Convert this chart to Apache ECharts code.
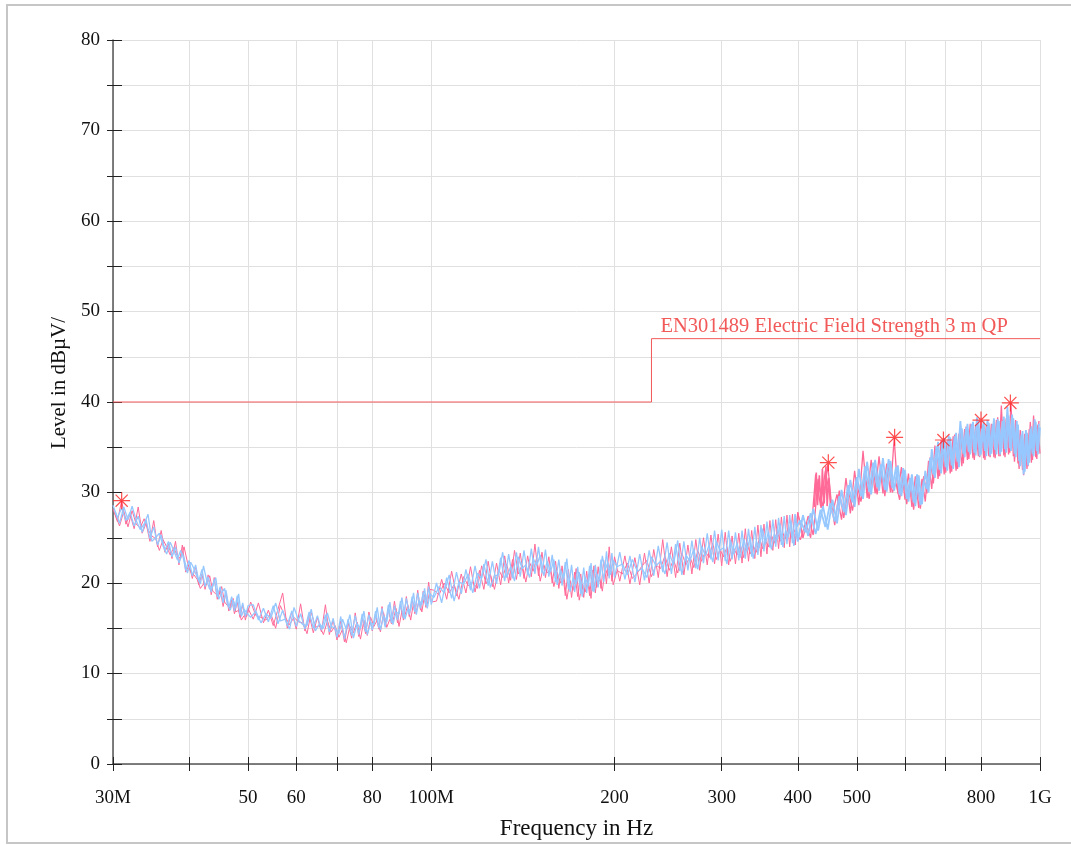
<!DOCTYPE html>
<html>
<head>
<meta charset="utf-8">
<title>EMI scan</title>
<script src="https://cdn.jsdelivr.net/npm/echarts@6/dist/echarts.min.js"></script>
<style>
  html, body { margin: 0; padding: 0; background: #fff; }
  #chart { position: absolute; left: 0; top: 0; width: 1071px; height: 845px; }
  #frame { position: absolute; left: 6px; top: 4px; width: 1100px; height: 836px;
           border: 2px solid #c6c6c6; pointer-events: none; }
</style>
</head>
<body>
<div id="chart"></div>
<div id="frame"></div>
<script>
// sweep frequencies in MHz (first pass)
const sweepFreqs = [
  30,30.5,31,31.5,32,32.5,33,33.5,34,34.5,35,35.5,36,36.5,37,37.5,38,38.5,39,39.5,
  40,40.5,41,41.5,42,42.5,43,43.5,44,44.5,45,45.5,46,46.5,47,47.5,48,48.5,49,49.5,50,
  51,52,53,54,55,56,57,58,59,60,61,62,63,64,65,66,67,68,69,70,
  71,72,73,74,75,76,77,78,79,80,81,82,83,84,85,86,87,88,89,90,
  91,92,93,94,95,96,97,98,99,100,
  102,104,106,108,110,112,114,116,118,120,122,124,126,128,130,132,134,136,138,140,
  142,144,146,148,150,152,154,156,158,160,162,164,166,168,170,172,174,176,178,180,
  182,184,186,188,190,192,194,196,198,200,
  204,208,212,216,220,224,228,232,236,240,244,248,252,256,260,264,268,272,276,280,
  284,288,292,296,300,304,308,312,316,320,324,328,332,336,340,344,348,352,356,360,
  364,368,372,376,380,384,388,392,396,400,
  408,416,424,432,440,448,456,464,472,480,488,496,504,512,520,528,536,544,552,560,
  568,576,584,592,600,608,616,624,632,640,648,656,664,672,680,688,696,704,712,720,
  728,736,744,752,760,768,776,784,792,800,808,816,824,832,840,848,856,864,872,880,
  888,896,904,912,920,928,936,944,952,960,968,976,984,992,1000
];

// max peak trace (pink), dBuV/m
const peakLevels = [
  28.2,26.8,29.1,26.5,27.6,26.0,28.4,25.5,26.6,24.6,26.9,24.0,25.8,23.4,24.3,22.7,24.6,22.0,24.2,21.2,
  22.0,20.5,21.8,19.8,21.0,19.3,20.9,18.7,20.6,18.2,19.3,17.4,19.0,16.9,18.2,16.6,17.9,16.2,17.6,15.9,17.2,
  16.0,17.8,15.6,17.0,15.3,17.1,18.9,15.0,16.8,14.9,17.7,14.7,16.5,14.5,16.2,14.6,17.6,14.3,15.9,13.7,
  15.8,13.5,15.6,13.9,16.7,14.1,16.1,14.4,16.8,14.7,16.5,14.9,17.4,15.3,17.1,15.5,18.0,15.6,17.6,15.9,
  18.5,16.3,18.2,16.6,19.2,17.0,19.1,17.3,20.1,17.9,
  18.0,20.4,18.2,21.3,18.6,21.0,18.9,21.8,19.0,21.4,19.3,22.4,19.6,22.2,19.8,23.0,20.0,22.6,20.4,23.3,
  20.5,23.0,20.7,24.3,20.8,23.4,20.6,22.9,20.0,22.4,19.4,21.9,18.6,21.5,18.4,21.2,18.5,21.0,18.4,21.3,
  18.6,21.4,18.9,21.8,19.4,22.5,19.9,24.0,20.2,22.9,
  20.2,23.0,19.9,22.8,19.8,23.3,20.0,23.7,20.6,24.8,20.7,24.0,20.6,24.4,20.9,24.2,21.0,24.8,21.4,25.0,
  22.0,25.3,22.1,25.4,21.9,25.6,22.0,25.2,22.1,25.5,22.2,26.0,22.4,25.8,22.7,26.4,22.9,26.5,23.2,26.9,
  23.6,27.0,23.8,27.3,23.9,27.5,24.0,27.6,24.2,27.8,
  25.0,27.4,25.3,31.5,28.3,33.1,27.6,29.8,27.0,31.6,27.7,32.4,28.6,34.6,29.4,33.6,29.9,34.0,29.9,33.2,
  30.0,36.0,29.9,32.8,29.2,32.1,28.4,31.8,28.3,31.5,29.0,33.5,30.4,35.2,31.5,35.8,32.0,35.7,32.1,36.2,
  32.4,36.5,32.9,37.0,33.6,37.6,33.8,37.5,34.0,37.9,33.8,37.4,34.0,37.6,33.9,38.0,34.0,39.6,34.1,38.2,
  34.2,39.9,34.0,38.0,33.2,36.9,32.5,36.5,32.6,37.0,33.3,38.5,33.9,37.5,34.3
];

// second trace (light blue), dBuV/m
const traceLevels = [
  28.6,27.2,28.3,26.9,27.8,26.3,27.4,25.6,27.0,24.9,26.2,24.2,25.3,23.6,24.6,22.9,24.0,22.2,23.3,21.4,
  22.5,20.8,22.0,20.2,21.5,19.6,20.7,19.0,20.4,18.5,19.6,17.8,19.2,17.3,18.5,16.9,18.6,16.5,17.8,16.3,17.5,
  17.6,15.9,17.2,15.7,17.5,15.5,17.0,15.3,16.9,15.2,16.6,14.9,16.8,15.0,16.4,14.8,16.5,14.6,16.1,14.0,
  16.3,13.8,16.0,14.2,16.4,14.3,16.6,14.6,16.5,14.8,16.9,15.0,17.2,15.1,17.6,15.6,17.5,15.9,18.0,16.1,
  18.3,16.5,18.5,16.8,18.9,17.2,19.0,17.5,19.6,17.6,
  20.0,17.8,20.6,18.3,21.2,18.8,21.5,19.2,21.9,19.4,22.1,19.7,22.4,19.9,22.8,20.2,23.2,20.5,23.4,20.7,
  23.6,20.9,23.8,21.0,24.0,21.1,23.7,20.7,23.1,20.1,22.6,19.7,22.3,19.3,22.0,19.0,21.8,18.8,21.7,18.9,
  21.9,19.1,22.0,19.5,22.6,20.1,23.5,20.5,23.3,20.6,
  23.4,20.4,23.0,20.1,23.2,20.3,23.6,20.8,24.1,21.2,24.5,21.0,24.3,21.3,24.6,21.4,24.7,21.6,25.0,22.2,
  25.5,22.6,25.8,22.5,25.9,22.4,25.8,22.6,25.6,22.5,25.8,22.7,26.0,22.9,26.2,23.1,26.4,23.5,26.8,23.9,
  27.0,24.0,27.2,24.2,27.4,24.3,27.5,24.4,27.6,24.6,
  27.5,25.2,28.2,25.8,28.5,25.9,29.2,26.6,30.3,27.5,31.4,28.4,32.6,29.3,33.4,29.8,33.6,30.2,33.8,30.1,
  33.5,30.2,33.0,29.6,32.5,29.0,32.0,28.5,31.9,28.7,32.4,30.0,34.8,31.6,35.6,32.1,36.0,32.4,36.1,32.6,
  36.6,32.8,37.1,33.9,37.6,34.2,37.8,34.1,38.0,34.2,37.9,34.0,37.7,34.3,38.2,34.2,37.9,34.5,38.4,34.4,
  38.5,34.6,38.2,33.9,37.5,32.9,36.8,32.3,36.6,33.3,37.3,34.0,37.8,34.2,37.2
];

// sweep frequencies in MHz (second pass, offset between the first-pass points)
const sweepFreqs2 = [
  30.25,30.75,31.25,31.75,32.25,32.75,33.25,33.75,34.25,34.75,35.25,35.75,36.25,36.75,37.25,37.75,
  38.25,38.75,39.25,39.75,40.25,40.75,41.25,41.75,42.25,42.75,43.25,43.75,44.25,44.75,45.25,45.75,
  46.25,46.75,47.25,47.75,48.25,48.75,49.25,49.75,
  50.5,51.5,52.5,53.5,54.5,55.5,56.5,57.5,58.5,59.5,60.5,61.5,62.5,63.5,64.5,65.5,66.5,67.5,68.5,69.5,
  70.5,71.5,72.5,73.5,74.5,75.5,76.5,77.5,78.5,79.5,80.5,81.5,82.5,83.5,84.5,85.5,86.5,87.5,88.5,89.5,
  90.5,91.5,92.5,93.5,94.5,95.5,96.5,97.5,98.5,99.5,
  101,103,105,107,109,111,113,115,117,119,121,123,125,127,129,131,133,135,137,139,
  141,143,145,147,149,151,153,155,157,159,161,163,165,167,169,171,173,175,177,179,
  181,183,185,187,189,191,193,195,197,199,
  202,206,210,214,218,222,226,230,234,238,242,246,250,254,258,262,266,270,274,278,
  282,286,290,294,298,302,306,310,314,318,322,326,330,334,338,342,346,350,354,358,
  362,366,370,374,378,382,386,390,394,398,
  404,412,420,428,436,444,452,460,468,476,484,492,500,508,516,524,532,540,548,556,
  564,572,580,588,596,604,612,620,628,636,644,652,660,668,676,684,692,700,708,716,
  724,732,740,748,756,764,772,780,788,796,804,812,820,828,836,844,852,860,868,876,
  884,892,900,908,916,924,932,940,948,956,964,972,980,988,996
];

const peakLevels2 = [
  27.6,26.3,27.9,26.2,28.0,26.5,26.1,27.1,25.9,25.2,24.9,23.6,24.8,24.0,23.1,23.9,
  23.0,22.7,24.0,22.3,21.2,20.9,20.4,19.4,19.9,19.8,20.8,19.1,18.8,18.6,19.6,17.9,
  17.5,17.2,18.3,16.8,17.0,15.9,16.4,16.3,
  17.9,16.4,16.2,15.9,16.6,15.0,17.5,16.3,15.4,16.2,15.7,15.6,14.4,16.8,15.1,15.3,14.3,15.8,14.6,15.3,
  14.0,14.9,13.4,15.2,14.5,15.7,13.8,15.9,14.2,16.2,15.2,15.9,14.6,16.7,15.1,16.0,15.8,17.2,15.2,16.9,
  16.4,17.6,15.9,17.8,16.9,18.1,16.8,18.7,17.6,19.3,
  19.2,18.7,20.0,18.9,19.8,18.2,20.7,19.7,20.1,19.4,21.9,19.9,21.0,19.3,21.5,20.6,22.1,20.3,23.6,21.0,
  22.0,20.1,22.3,21.3,22.8,20.2,22.0,21.1,21.6,19.6,21.2,20.0,20.9,18.2,20.3,19.2,21.6,18.1,19.9,19.0,
  20.4,18.3,21.9,19.5,20.6,19.1,21.7,20.8,22.3,19.8,
  21.4,21.0,22.2,20.5,21.1,21.9,22.5,20.7,22.0,21.6,23.0,21.4,22.6,21.1,23.3,22.0,22.9,21.7,23.6,22.4,
  23.5,22.8,24.4,22.6,23.7,22.9,24.0,22.4,23.8,23.1,24.2,22.8,24.5,23.2,24.1,23.4,25.0,23.8,24.7,24.0,
  25.3,24.4,25.8,24.6,25.5,24.9,26.3,25.0,25.9,25.4,
  24.8,26.7,25.0,32.0,28.5,32.4,29.5,26.4,30.2,27.2,30.4,28.0,31.0,29.0,31.9,29.3,32.5,29.8,32.8,29.6,
  33.0,30.0,31.0,29.2,32.0,28.7,31.2,28.1,31.4,28.2,31.8,29.9,33.9,31.0,34.7,31.8,35.0,32.2,35.4,32.3,
  36.4,32.6,36.8,33.2,37.3,33.7,37.1,33.6,37.7,33.9,37.2,33.6,37.8,33.9,37.4,33.8,38.3,34.0,38.0,33.9,
  37.9,34.4,38.1,33.4,37.2,32.6,36.3,31.9,36.8,32.9,37.8,33.6,38.0,33.7,37.9
];

const traceLevels2 = [
  27.9,26.6,28.4,27.0,28.5,26.9,25.9,26.5,27.6,24.6,25.0,25.5,24.1,23.2,24.5,23.6,
  22.6,23.6,22.8,21.1,22.3,21.6,20.6,19.9,21.9,20.3,19.3,19.7,20.6,18.2,18.9,19.4,
  17.6,17.0,18.1,17.3,18.8,16.3,17.1,16.7,
  16.2,16.9,15.6,16.6,16.1,17.8,15.8,16.0,14.9,17.3,15.9,15.4,15.3,17.1,14.7,15.5,15.0,16.7,15.2,15.0,
  14.4,16.0,14.9,16.5,13.9,15.5,15.0,16.9,14.3,15.6,15.4,17.3,14.8,16.4,15.7,17.9,15.4,16.8,16.6,18.4,
  16.0,17.1,17.0,18.9,16.5,18.1,17.6,19.4,17.2,18.8,
  18.4,19.6,18.9,20.9,18.0,20.1,19.9,21.0,18.9,21.1,20.5,22.6,19.5,20.8,20.9,23.4,20.6,21.8,20.2,22.9,
  21.6,22.0,20.6,22.7,21.9,23.1,20.8,22.4,21.2,22.6,19.8,21.5,20.4,22.7,19.0,20.6,19.9,21.2,18.5,20.7,
  19.6,22.2,19.0,21.0,20.3,23.0,21.4,22.3,20.9,22.5,
  21.8,22.1,20.9,22.6,21.3,21.6,20.6,22.9,21.9,22.4,21.0,23.3,22.0,24.7,20.9,23.1,22.4,23.8,21.5,24.1,
  23.0,24.2,22.3,24.6,23.6,23.9,22.1,24.8,23.2,24.4,22.8,24.9,23.5,25.1,22.7,24.6,23.9,26.0,24.3,25.7,
  23.7,25.4,24.8,26.6,24.0,25.8,25.1,26.9,24.1,26.2,
  26.9,25.6,27.7,25.4,28.1,26.2,28.8,26.8,29.6,27.9,30.8,28.9,31.7,29.6,32.9,30.1,33.3,30.6,33.1,30.3,
  33.7,30.5,32.8,29.8,32.7,29.3,31.6,28.9,32.0,28.6,31.3,30.4,33.8,32.0,35.1,32.5,35.7,32.8,36.3,33.0,
  36.2,33.4,37.9,34.3,37.2,34.5,37.6,34.4,38.3,34.0,37.5,34.6,38.0,34.1,37.6,34.7,38.1,34.2,37.9,34.8,
  39.5,34.9,38.6,34.3,37.9,33.5,36.4,32.0,36.9,33.0,37.0,34.3,38.1,34.6,37.6
];

// extra peak readings inside the pink burst around 425-455 MHz
const burstFreqs = [426, 429, 431, 434, 437, 439, 442, 445, 447, 450, 453];
const burstLevels = [28.4, 32.2, 28.6, 31.9, 28.3, 32.6, 28.8, 32.9, 28.5, 31.6, 28.2];

// limit line EN301489 (step at 230 MHz)
const limitFreqs = [30, 230, 230, 1000];
const limitLevels = [40, 40, 47, 47];
const limitName = 'EN301489 Electric Field Strength 3 m QP';

// final measurement peaks (red stars)
const markFreqs = [31.0, 449, 577, 694, 800, 894];
const markLevels = [29.1, 33.3, 36.1, 35.8, 38.0, 39.9];

const tickFreqs = [30, 40, 50, 60, 70, 80, 100, 200, 300, 400, 500, 600, 700, 800, 1000];
const labelFreqs = [30, 50, 60, 80, 100, 200, 300, 400, 500, 800, 1000];
const freqText = { 30: '30M', 100: '100M', 1000: '1G' };

const font = 'Liberation Serif';
const pink = '#ff6a98';
const blue = '#96c8ff';
const zip = (xs, ys) => xs.map((x, i) => [x, ys[i]]);
// above ~400 MHz the sweep is so dense it reads as a solid band: draw that part thicker
const lowPart = pts => pts.filter(p => p[0] <= 408);
const highPart = pts => pts.filter(p => p[0] >= 396);

const traceSeries = (name, data, color, width) => ({
  name, type: 'line', data,
  showSymbol: false, symbol: 'none',
  lineStyle: { color, width }
});

const peak1 = zip(sweepFreqs, peakLevels);
const peak2 = zip(sweepFreqs2, peakLevels2);
const trace1 = zip(sweepFreqs, traceLevels);
const trace2 = zip(sweepFreqs2, traceLevels2);

const chart = echarts.init(document.getElementById('chart'));

const xBase = { type: 'log', logBase: 10, min: 30, max: 1000, gridIndex: 0, position: 'bottom' };
const yBase = { type: 'value', min: 0, max: 80, interval: 5, gridIndex: 0, position: 'left' };

chart.setOption({
  animation: false,
  backgroundColor: '#fff',
  grid: { left: 113, top: 40, right: 31, bottom: 78, containLabel: false },
  xAxis: [
    Object.assign({}, xBase, {
      name: 'Frequency in Hz',
      nameLocation: 'middle',
      nameGap: 53,
      nameTextStyle: { fontFamily: font, fontSize: 23, color: '#111' },
      axisLine: { lineStyle: { color: '#555', width: 1.5 } },
      axisTick: { customValues: tickFreqs, length: 7, lineStyle: { color: '#222' } },
      axisLabel: {
        customValues: labelFreqs,
        formatter: v => freqText[Math.round(v)] || String(Math.round(v)),
        fontFamily: font, fontSize: 19, color: '#111', margin: 25
      },
      splitLine: { show: true, lineStyle: { color: '#e0e0e0', width: 1 } }
    }),
    Object.assign({}, xBase, {
      axisLine: { show: false },
      axisTick: { customValues: tickFreqs, inside: true, length: 7, lineStyle: { color: '#222' } },
      axisLabel: { show: false },
      splitLine: { show: false }
    })
  ],
  yAxis: [
    Object.assign({}, yBase, {
      name: 'Level in dBµV/',
      nameLocation: 'middle',
      nameGap: 40,
      nameTextStyle: { fontFamily: font, fontSize: 21, color: '#111', padding: [0, 0, 0, 38] },
      axisLine: { show: true, lineStyle: { color: '#555', width: 1.5 } },
      axisTick: { show: true, length: 6, lineStyle: { color: '#222' } },
      axisLabel: {
        formatter: v => (v % 10 === 0 ? String(v) : ''),
        fontFamily: font, fontSize: 19, color: '#111', margin: 13
      },
      splitLine: { show: true, lineStyle: { color: '#e0e0e0', width: 1 } }
    }),
    Object.assign({}, yBase, {
      axisLine: { show: false },
      axisTick: { show: true, inside: true, length: 9, lineStyle: { color: '#222' } },
      axisLabel: { show: false },
      splitLine: { show: false }
    })
  ],
  series: [
    traceSeries('Peak', lowPart(peak1), pink, 1),
    traceSeries('Peak', lowPart(peak2), pink, 1),
    traceSeries('Peak', highPart(peak1), pink, 1.3),
    traceSeries('Peak', highPart(peak2), pink, 1.3),
    traceSeries('Peak', zip(burstFreqs, burstLevels), pink, 1.6),
    traceSeries('Trace', lowPart(trace1), blue, 1.3),
    traceSeries('Trace', lowPart(trace2), blue, 1.3),
    traceSeries('Trace', highPart(trace1), blue, 1.8),
    traceSeries('Trace', highPart(trace2), blue, 1.8),
    {
      name: 'Limit', type: 'line', data: zip(limitFreqs, limitLevels),
      showSymbol: false, symbol: 'none',
      lineStyle: { color: '#f25a5a', width: 1 },
      markPoint: {
        symbol: 'circle', symbolSize: 0,
        label: {
          show: true, position: 'right', formatter: limitName,
          fontFamily: font, fontSize: 20.5, color: '#f25a5a', offset: [4, -12]
        },
        data: [{ coord: [limitFreqs[1], limitLevels[2]] }]
      }
    },
    {
      name: 'Final', type: 'scatter', data: zip(markFreqs, markLevels),
      symbol: 'path://M8 0L8 16M0 8L16 8M2.3 2.3L13.7 13.7M2.3 13.7L13.7 2.3',
      symbolSize: 17,
      itemStyle: { color: 'none', borderColor: '#ff2222', borderWidth: 1.2 },
      z: 5
    }
  ]
});
</script>
</body>
</html>
